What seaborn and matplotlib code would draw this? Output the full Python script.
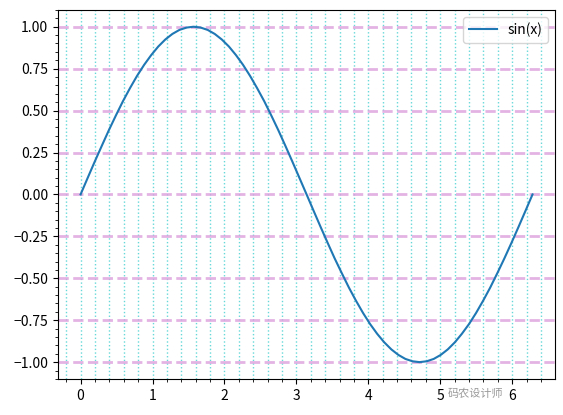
# -*- coding: utf-8 -*-
"""
    sin(x) line with custom major/minor grids, drawn with seaborn
"""

import pandas as pd
import matplotlib
matplotlib.use("Agg")
import matplotlib.pyplot as plt
from matplotlib.ticker import AutoMinorLocator
import seaborn as sns

# values (one sample every pi/32)
x_vals = [0.000, 0.098, 0.196, 0.295, 0.393, 0.491, 0.589, 0.687, 0.785,
          0.884, 0.982, 1.080, 1.178, 1.276, 1.374, 1.473, 1.571,
          1.669, 1.767, 1.865, 1.963, 2.062, 2.160, 2.258, 2.356,
          2.454, 2.553, 2.651, 2.749, 2.847, 2.945, 3.043, 3.142,
          3.240, 3.338, 3.436, 3.534, 3.633, 3.731, 3.829, 3.927,
          4.025, 4.123, 4.222, 4.320, 4.418, 4.516, 4.614, 4.712,
          4.811, 4.909, 5.007, 5.105, 5.203, 5.301, 5.400, 5.498,
          5.596, 5.694, 5.792, 5.890, 5.989, 6.087, 6.185, 6.283]
y_vals = [0.000, 0.098, 0.195, 0.290, 0.383, 0.471, 0.556, 0.634, 0.707,
          0.773, 0.831, 0.882, 0.924, 0.957, 0.981, 0.995, 1.000,
          0.995, 0.981, 0.957, 0.924, 0.882, 0.831, 0.773, 0.707,
          0.634, 0.556, 0.471, 0.383, 0.290, 0.195, 0.098, 0.000,
          -0.098, -0.195, -0.290, -0.383, -0.471, -0.556, -0.634, -0.707,
          -0.773, -0.831, -0.882, -0.924, -0.957, -0.981, -0.995, -1.000,
          -0.995, -0.981, -0.957, -0.924, -0.882, -0.831, -0.773, -0.707,
          -0.634, -0.556, -0.471, -0.383, -0.290, -0.195, -0.098, 0.000]
series_label = "sin(x)"
watermark = "码农设计师"

plt.rcParams["font.family"] = ["Noto Sans CJK SC", "DejaVu Sans"]
plt.rcParams["axes.unicode_minus"] = True

df = pd.DataFrame({"x": x_vals, "y": y_vals})

fig, ax = plt.subplots(figsize=(5.63, 4.15), dpi=100)
fig.subplots_adjust(left=0.103, right=0.986, top=0.976, bottom=0.087)

sns.lineplot(data=df, x="x", y="y", ax=ax, color="#1f77b4", linewidth=1.5,
             label=series_label, sort=False)
ax.set_xlabel("")
ax.set_ylabel("")

ax.xaxis.set_minor_locator(AutoMinorLocator(5))
ax.yaxis.set_minor_locator(AutoMinorLocator(5))

# y: thick dashed plum on majors; x: dotted cyan on majors and minors
ax.grid(axis="y", which="major", color="plum", alpha=0.8, linestyle="--", linewidth=2)
ax.grid(axis="x", which="both", color="c", alpha=0.6, linestyle=":", linewidth=1)

ax.legend(loc="upper right", fontsize=10)
ax.tick_params(labelsize=10)

# watermark placed in the gap between the "5" and "6" tick labels
fig.text(0.844, 0.052, watermark, color="#9a9a9a", fontsize=8,
         ha="center", va="center")

plt.savefig("out.png", dpi=100)
